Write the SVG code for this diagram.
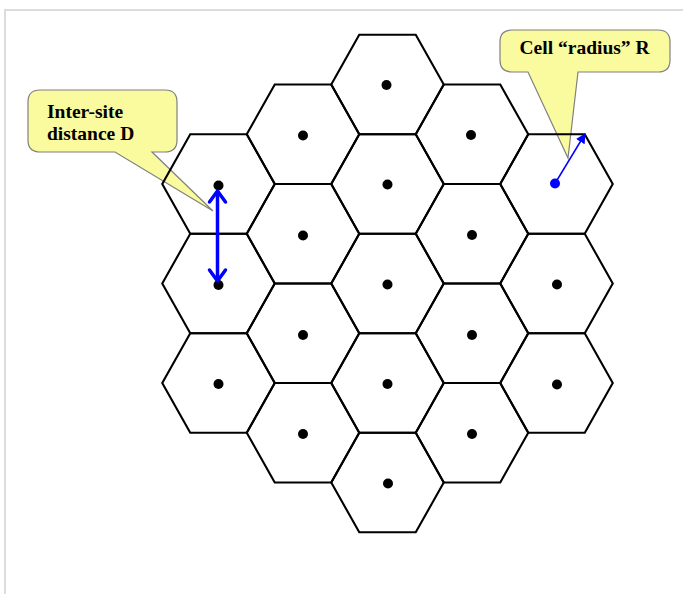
<svg xmlns="http://www.w3.org/2000/svg" xmlns:xlink="http://www.w3.org/1999/xlink" width="683" height="594" viewBox="0 0 683 594">
<style>
.hex{fill:none;stroke:#000;stroke-width:2.1;stroke-linejoin:miter}
.dot{fill:#000}
.callout{fill:#fafa9e;stroke:#808080;stroke-width:1.2}
.lbl{font-family:"Liberation Serif","Times New Roman",serif;font-weight:bold;font-size:19.5px;fill:#000}
</style>
<defs>
<polygon id="hexshape" points="-56.25,0 -28.25,-49.75 28.25,-49.75 56.25,0 28.25,49.75 -28.25,49.75"/>
<marker id="ah" markerWidth="10" markerHeight="10" refX="9" refY="5" orient="auto" markerUnits="userSpaceOnUse">
<path d="M0,0 L10,5 L0,10 Z" fill="#0000ff"/>
</marker>
</defs>
<rect width="683" height="594" fill="#fff"/>
<path d="M5,594 V10 H683" fill="none" stroke="#dcdcdc" stroke-width="2"/>

<g id="callout-D">
<path class="callout" d="M40,90 H165 Q177,90 177,102 V140 Q177,152 165,152 H152 L213,211 L115,152 H40 Q28,152 28,140 V102 Q28,90 40,90 Z"/>
<text class="lbl" x="47" y="118">Inter-site</text>
<text class="lbl" x="47" y="139.5">distance D</text>
</g>
<g id="callout-R">
<path class="callout" d="M512,30 H658 Q670,30 670,42 V60 Q670,72 658,72 H578 L568,158 L528,72 H512 Q500,72 500,60 V42 Q500,30 512,30 Z"/>
<text class="lbl" y="53.5"><tspan x="519.5">Cell</tspan><tspan x="558">“radius”</tspan><tspan x="635.5">R</tspan></text>
</g>

<g id="cell-1-1"><use href="#hexshape" class="hex" x="218.5" y="184"/><circle class="dot" cx="218.5" cy="185.5" r="5"/></g>
<g id="cell-1-2"><use href="#hexshape" class="hex" x="218.5" y="283.5"/><circle class="dot" cx="218.5" cy="285" r="5"/></g>
<g id="cell-1-3"><use href="#hexshape" class="hex" x="218.5" y="383"/><circle class="dot" cx="218.5" cy="384" r="5"/></g>

<g id="cell-2-1"><use href="#hexshape" class="hex" x="303" y="134.25"/><circle class="dot" cx="303" cy="135.5" r="5"/></g>
<g id="cell-2-2"><use href="#hexshape" class="hex" x="303" y="233.75"/><circle class="dot" cx="303" cy="235.5" r="5"/></g>
<g id="cell-2-3"><use href="#hexshape" class="hex" x="303" y="333.25"/><circle class="dot" cx="303" cy="335" r="5"/></g>
<g id="cell-2-4"><use href="#hexshape" class="hex" x="303" y="432.75"/><circle class="dot" cx="303" cy="434" r="5"/></g>

<g id="cell-3-1"><use href="#hexshape" class="hex" x="387.5" y="84.5"/><circle class="dot" cx="386.5" cy="85" r="5"/></g>
<g id="cell-3-2"><use href="#hexshape" class="hex" x="387.5" y="184"/><circle class="dot" cx="387.5" cy="184.5" r="5"/></g>
<g id="cell-3-3"><use href="#hexshape" class="hex" x="387.5" y="283.5"/><circle class="dot" cx="387.5" cy="284.5" r="5"/></g>
<g id="cell-3-4"><use href="#hexshape" class="hex" x="387.5" y="383"/><circle class="dot" cx="387.5" cy="384" r="5"/></g>
<g id="cell-3-5"><use href="#hexshape" class="hex" x="387.5" y="482.5"/><circle class="dot" cx="388" cy="483.5" r="5"/></g>

<g id="cell-4-1"><use href="#hexshape" class="hex" x="472" y="134.25"/><circle class="dot" cx="471" cy="135" r="5"/></g>
<g id="cell-4-2"><use href="#hexshape" class="hex" x="472" y="233.75"/><circle class="dot" cx="472" cy="235" r="5"/></g>
<g id="cell-4-3"><use href="#hexshape" class="hex" x="472" y="333.25"/><circle class="dot" cx="472" cy="335" r="5"/></g>
<g id="cell-4-4"><use href="#hexshape" class="hex" x="472" y="432.75"/><circle class="dot" cx="472" cy="434" r="5"/></g>

<g id="cell-5-1"><use href="#hexshape" class="hex" x="556.5" y="184"/></g>
<g id="cell-5-2"><use href="#hexshape" class="hex" x="556.5" y="283.5"/><circle class="dot" cx="557" cy="284.5" r="5"/></g>
<g id="cell-5-3"><use href="#hexshape" class="hex" x="556.5" y="383"/><circle class="dot" cx="557" cy="384.5" r="5"/></g>

<g id="connectors">
<circle cx="555" cy="183.5" r="5" fill="#0000ff"/>
<line x1="555" y1="183.5" x2="585" y2="134" stroke="#0000ff" stroke-width="1.5" marker-end="url(#ah)"/>
<line x1="217.5" y1="191" x2="217.5" y2="281" stroke="#0000ff" stroke-width="3.5"/>
<polyline points="209.5,202 217.5,191 225.5,202" fill="none" stroke="#0000ff" stroke-width="3.5" stroke-linecap="round" stroke-linejoin="round"/>
<polyline points="209.5,270 217.5,281 225.5,270" fill="none" stroke="#0000ff" stroke-width="3.5" stroke-linecap="round" stroke-linejoin="round"/>
</g>
</svg>
